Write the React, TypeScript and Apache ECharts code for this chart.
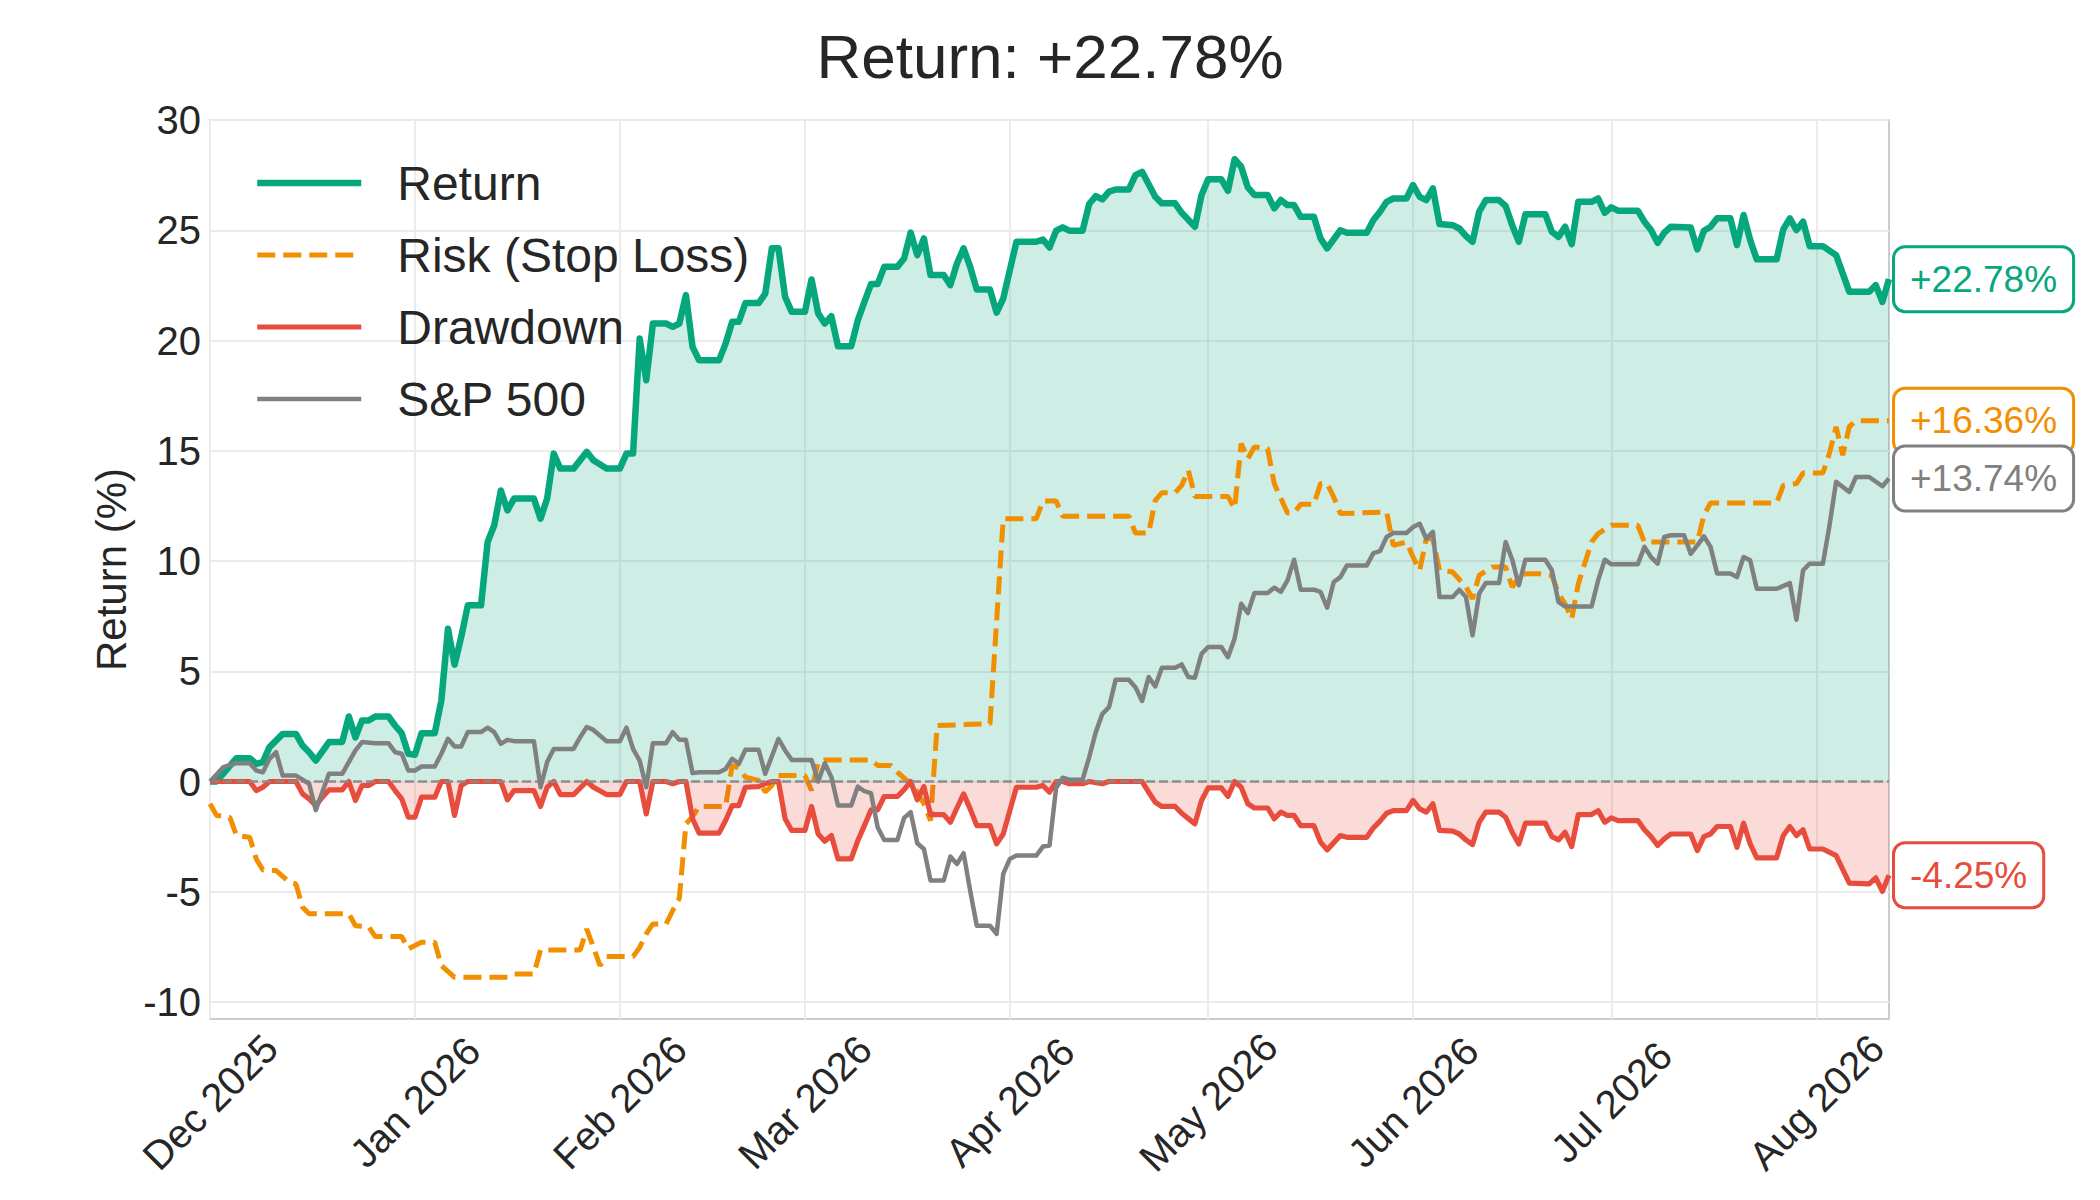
import React, { useEffect, useRef } from "react";
import * as echarts from "echarts";

// Days counted from 2025-12-01 (day 0) to 2026-08-12 (day 254)
const X_MAX_DAY = 254;
const MONTH_TICK_DAYS = [0, 31, 62, 90, 121, 151, 182, 212, 243];
const MONTH_TICK_LABELS = ["Dec 2025", "Jan 2026", "Feb 2026", "Mar 2026", "Apr 2026", "May 2026", "Jun 2026", "Jul 2026", "Aug 2026"];
const Y_TICKS = [-10, -5, 0, 5, 10, 15, 20, 25, 30];
const Y_MIN = -10.77;
const Y_MAX = 30;

const TITLE = "Return: +22.78%";
const SERIES_NAMES = ["Return", "Risk (Stop Loss)", "Drawdown", "S&P 500"];

// [day, value %]
const RETURN_POINTS = [
  [0,0],[1,0],[4,1.06],[6,1.06],[7,0.8],[8,0.88],[9,1.56],[11,2.16],[13,2.16],[14,1.63],[15,1.33],[16,0.95],
  [18,1.79],[20,1.79],[21,2.95],[22,2.0],[23,2.77],[24,2.77],[25,2.95],[27,2.95],[28,2.54],[29,2.19],[30,1.26],
  [31,1.21],[32,2.19],[34,2.19],[35,3.68],[36,6.93],[37,5.3],[38,6.55],[39,7.99],[41,7.99],[42,10.86],[43,11.62],
  [44,13.2],[45,12.3],[46,12.83],[49,12.83],[50,11.92],[51,12.83],[52,14.87],[53,14.19],[55,14.19],[57,14.95],
  [58,14.57],[60,14.19],[62,14.19],[63,14.87],[64,14.87],[65,20.09],[66,18.2],[67,20.77],[69,20.77],[70,20.62],
  [71,20.77],[72,22.06],[73,19.71],[74,19.1],[77,19.1],[78,19.86],[79,20.85],[80,20.85],[81,21.7],[83,21.7],
  [84,22.13],[85,24.18],[86,24.18],[87,21.98],[88,21.3],[90,21.3],[91,22.77],[92,21.23],[93,20.77],[94,21.1],
  [95,19.74],[97,19.74],[98,20.92],[99,21.75],[100,22.56],[101,22.56],[102,23.34],[104,23.34],[105,23.72],
  [106,24.89],[107,23.87],[108,24.63],[109,22.97],[111,22.97],[112,22.51],[113,23.49],[114,24.18],[115,23.34],
  [116,22.31],[118,22.31],[119,21.26],[120,21.9],[122,24.48],[125,24.48],[126,24.58],[127,24.22],[128,24.98],
  [129,25.13],[130,24.98],[132,24.98],[133,26.19],[134,26.55],[135,26.4],[136,26.75],[137,26.85],[139,26.85],
  [140,27.5],[141,27.65],[143,26.52],[144,26.22],[146,26.22],[147,25.79],[149,25.16],[150,26.6],[151,27.31],
  [153,27.31],[154,26.79],[155,28.22],[156,27.88],[157,26.94],[158,26.6],[160,26.6],[161,25.99],[162,26.37],
  [163,26.14],[164,26.14],[165,25.61],[167,25.61],[168,24.63],[169,24.18],[171,25.0],[172,24.89],[175,24.89],
  [176,25.46],[177,25.84],[178,26.29],[179,26.44],[181,26.44],[182,27.05],[183,26.52],[184,26.37],[185,26.9],
  [186,25.28],[188,25.23],[189,25.08],[190,24.74],[191,24.48],[192,25.84],[193,26.37],[195,26.37],[196,26.1],
  [197,25.23],[198,24.48],[199,25.73],[202,25.73],[203,24.93],[204,24.7],[205,25.16],[206,24.37],[207,26.29],
  [209,26.29],[210,26.44],[211,25.79],[212,26.04],[213,25.89],[216,25.89],[217,25.39],[218,25.01],[219,24.43],
  [220,24.89],[221,25.16],[224,25.13],[225,24.13],[226,24.98],[227,25.16],[228,25.54],[230,25.54],[231,24.33],
  [232,25.69],[233,24.55],[234,23.68],[237,23.68],[238,25.04],[239,25.54],[240,25.01],[241,25.39],[242,24.28],
  [244,24.28],[246,23.87],[248,22.21],[251,22.21],[252,22.51],[253,21.75],[254,22.78]
];

const RISK_POINTS = [
  [0,-1.01],[1,-1.54],[3,-1.62],[4,-2.45],[6,-2.53],[7,-3.51],[8,-4.01],[10,-4.04],[12,-4.57],[13,-4.64],
  [14,-5.7],[15,-6.0],[21,-6.0],[22,-6.54],[24,-6.58],[25,-7.03],[29,-7.03],[30,-7.59],[32,-7.29],[34,-7.29],
  [35,-8.35],[37,-8.88],[45,-8.88],[46,-8.73],[49,-8.73],[50,-7.64],[56,-7.64],[57,-6.69],[59,-8.35],[60,-7.94],
  [64,-7.94],[65,-7.52],[66,-6.91],[67,-6.46],[69,-6.46],[70,-5.85],[71,-5.3],[72,-1.92],[73,-1.59],[74,-1.13],
  [78,-1.13],[79,0.73],[80,0.6],[81,0.2],[83,0.05],[84,-0.48],[85,-0.18],[86,0.27],[90,0.27],[91,-0.41],[92,0.88],
  [93,0.98],[100,0.98],[101,0.73],[103,0.73],[104,0.42],[106,-0.1],[107,-0.48],[108,-1.01],[109,-1.77],[110,2.54],
  [118,2.62],[120,11.92],[125,11.92],[126,12.72],[128,12.72],[129,12.03],[139,12.03],[140,11.27],[142,11.27],
  [143,12.75],[144,13.09],[146,13.09],[147,13.43],[148,14.11],[149,12.93],[154,12.93],[155,12.38],[156,15.33],
  [157,14.64],[158,15.17],[160,15.1],[161,13.51],[163,12.18],[164,12.18],[165,12.57],[167,12.57],[168,13.51],
  [169,13.51],[170,12.9],[171,12.15],[178,12.22],[179,10.71],[181,10.86],[182,10.18],[183,9.58],[184,11.01],
  [185,11.01],[186,9.58],[188,9.5],[190,8.82],[191,8.29],[192,9.35],[194,9.73],[196,9.73],[197,8.82],[198,9.27],
  [199,9.42],[201,9.42],[203,9.35],[204,8.52],[205,8.06],[206,7.38],[207,8.97],[209,10.86],[210,11.24],
  [212,11.62],[216,11.62],[217,10.86],[225,10.86],[226,12.07],[227,12.63],[237,12.63],[238,13.43],[240,13.51],
  [241,13.99],[244,13.99],[245,14.9],[246,16.08],[247,14.8],[248,16.1],[249,16.36],[254,16.36]
];

const DRAWDOWN_POINTS = [
  [0,0],[6,0],[7,-0.41],[8,-0.26],[9,0],[13,0],[14,-0.56],[15,-0.79],[16,-1.09],[17,-0.71],[18,-0.38],[20,-0.38],
  [21,0],[22,-0.86],[23,-0.18],[24,-0.18],[25,0],[27,0],[28,-0.41],[29,-0.79],[30,-1.62],[31,-1.62],[32,-0.71],
  [34,-0.71],[35,0],[36,0],[37,-1.54],[38,-0.18],[39,0],[44,0],[45,-0.83],[46,-0.41],[49,-0.41],[50,-1.13],
  [51,-0.26],[52,0],[53,-0.59],[55,-0.59],[57,0],[58,-0.26],[60,-0.59],[62,-0.59],[63,0],[65,0],[66,-1.47],[67,0],
  [69,0],[70,-0.1],[71,0],[72,0],[73,-1.69],[74,-2.34],[77,-2.34],[78,-1.77],[79,-1.09],[80,-1.09],[81,-0.26],
  [83,-0.23],[84,-0.1],[85,0],[86,0],[87,-1.69],[88,-2.22],[90,-2.22],[91,-1.13],[92,-2.38],[93,-2.71],[94,-2.45],
  [95,-3.51],[97,-3.51],[98,-2.68],[99,-2.0],[100,-1.29],[101,-1.29],[102,-0.68],[104,-0.68],[105,-0.37],[106,0],
  [107,-0.83],[108,-0.23],[109,-1.5],[111,-1.5],[112,-1.85],[113,-1.2],[114,-0.56],[115,-1.24],[116,-2.0],
  [118,-2.0],[119,-2.83],[120,-2.38],[122,-0.26],[125,-0.26],[126,-0.18],[127,-0.48],[128,0],[129,0],[130,-0.1],
  [132,-0.1],[133,0],[135,-0.1],[136,0],[141,0],[142,-0.48],[143,-0.94],[144,-1.13],[146,-1.13],[147,-1.44],
  [149,-1.92],[150,-0.86],[151,-0.29],[153,-0.29],[154,-0.68],[155,0],[156,-0.26],[157,-1.01],[158,-1.2],
  [160,-1.2],[161,-1.69],[162,-1.39],[163,-1.54],[164,-1.54],[165,-2.0],[167,-2.0],[168,-2.75],[169,-3.1],
  [171,-2.45],[172,-2.53],[175,-2.53],[176,-2.1],[177,-1.8],[178,-1.44],[179,-1.32],[181,-1.32],[182,-0.86],
  [183,-1.24],[184,-1.39],[185,-1.01],[186,-2.22],[188,-2.25],[189,-2.38],[190,-2.65],[191,-2.86],[192,-1.85],
  [193,-1.39],[195,-1.39],[196,-1.62],[197,-2.3],[198,-2.83],[199,-1.89],[202,-1.89],[203,-2.5],[204,-2.65],
  [205,-2.3],[206,-2.95],[207,-1.5],[209,-1.5],[210,-1.32],[211,-1.85],[212,-1.65],[213,-1.77],[216,-1.77],
  [217,-2.19],[218,-2.5],[219,-2.9],[220,-2.6],[221,-2.38],[224,-2.38],[225,-3.13],[226,-2.5],[227,-2.38],
  [228,-2.04],[230,-2.04],[231,-2.98],[232,-1.89],[233,-2.83],[234,-3.46],[237,-3.46],[238,-2.45],[239,-2.04],
  [240,-2.45],[241,-2.19],[242,-3.06],[244,-3.06],[246,-3.36],[248,-4.61],[251,-4.64],[252,-4.37],[253,-4.98],
  [254,-4.25]
];

const SP500_POINTS = [
  [0,0],[2,0.65],[4,0.83],[6,0.83],[7,0.5],[8,0.42],[9,1.03],[10,1.33],[11,0.27],[13,0.27],[15,-0.1],[16,-1.3],
  [18,0.35],[20,0.35],[21,0.88],[22,1.41],[23,1.79],[25,1.74],[27,1.74],[28,1.33],[29,1.26],[30,0.5],[31,0.5],
  [32,0.68],[34,0.68],[35,1.26],[36,1.94],[37,1.59],[38,1.59],[39,2.24],[41,2.24],[42,2.44],[43,2.24],[44,1.71],
  [45,1.89],[46,1.83],[49,1.83],[50,-0.26],[51,0.88],[52,1.48],[55,1.48],[56,2.01],[57,2.47],[58,2.34],[60,1.83],
  [62,1.83],[63,2.44],[64,1.48],[65,0.95],[66,-0.26],[67,1.74],[69,1.74],[70,2.24],[71,1.89],[72,1.89],[73,0.38],
  [74,0.42],[77,0.42],[78,0.57],[79,1.03],[80,0.8],[81,1.44],[83,1.44],[84,0.35],[86,1.94],[87,1.41],[88,0.98],
  [91,0.98],[92,0],[93,0.83],[94,0.2],[95,-1.09],[97,-1.09],[98,-0.23],[99,-0.44],[100,-0.53],[101,-2.07],
  [102,-2.65],[104,-2.65],[105,-1.65],[106,-1.39],[107,-2.8],[108,-3.06],[109,-4.49],[111,-4.49],[112,-3.4],
  [113,-3.74],[114,-3.25],[115,-4.95],[116,-6.54],[118,-6.54],[119,-6.91],[120,-4.19],[121,-3.51],[122,-3.36],
  [125,-3.36],[126,-2.95],[127,-2.9],[128,-0.29],[129,0.17],[130,0.08],[132,0.08],[133,1.1],[134,2.24],[135,3.07],
  [136,3.37],[137,4.61],[139,4.61],[140,4.28],[141,3.65],[142,4.74],[143,4.31],[144,5.16],[146,5.16],[147,5.31],
  [148,4.74],[149,4.71],[150,5.79],[151,6.1],[153,6.1],[154,5.64],[155,6.48],[156,8.06],[157,7.64],[158,8.55],
  [160,8.55],[161,8.79],[162,8.6],[163,9.12],[164,10.06],[165,8.7],[167,8.7],[168,8.6],[169,7.88],[170,9.05],
  [171,9.27],[172,9.8],[175,9.8],[176,10.36],[177,10.45],[178,11.09],[179,11.27],[181,11.27],[182,11.54],
  [183,11.69],[184,11.01],[185,11.32],[186,8.37],[188,8.37],[189,8.7],[190,8.37],[191,6.63],[192,8.52],[193,9.0],
  [195,9.0],[196,10.86],[197,10.06],[198,8.9],[199,10.06],[202,10.06],[203,9.58],[204,8.14],[205,7.94],[209,7.94],
  [210,9.12],[211,10.06],[212,9.85],[216,9.85],[217,10.64],[218,10.18],[219,9.88],[220,11.09],[221,11.17],
  [223,11.17],[224,10.33],[225,10.71],[226,11.12],[227,10.64],[228,9.43],[230,9.43],[231,9.27],[232,10.18],
  [233,10.03],[234,8.74],[237,8.74],[239,9.0],[240,7.34],[241,9.58],[242,9.88],[244,9.88],[245,11.62],[246,13.59],
  [248,13.13],[249,13.81],[251,13.81],[253,13.39],[254,13.74]
];

const COLORS = ["#06a77d", "#f18f01", "#e74c3c", "#808080"];
const TEXT_COLOR = "#262626";
const FONT = "'Liberation Sans', Arial, Helvetica, sans-serif";

function pct(v: number): string {
  return (v >= 0 ? "+" : "") + v.toFixed(2) + "%";
}

function endLabel(color: string) {
  return {
    show: true,
    formatter: (p: any) => pct(Array.isArray(p.value) ? p.value[1] : p.value),
    color,
    fontSize: 37,
    lineHeight: 40,
    fontFamily: FONT,
    backgroundColor: "#ffffff",
    borderColor: color,
    borderWidth: 3,
    borderRadius: 10,
    padding: [11, 15, 11, 15],
    distance: 6,
  };
}

export default function App() {
  const ref = useRef<HTMLDivElement>(null);

  useEffect(() => {
    if (!ref.current) return;
    const chart = echarts.init(ref.current, undefined, { renderer: "svg" });
    const option: any = {
      animation: false,
      backgroundColor: "#ffffff",
      textStyle: { fontFamily: FONT, color: TEXT_COLOR },
      title: {
        text: TITLE,
        left: "center",
        top: 20,
        textStyle: { fontSize: 62, fontWeight: "normal", color: TEXT_COLOR, fontFamily: FONT },
      },
      legend: {
        orient: "vertical",
        left: 254,
        top: 159,
        padding: 0,
        itemWidth: 104,
        itemHeight: 1,
        itemGap: 24,
        data: SERIES_NAMES,
        lineStyle: { width: "inherit" },
        itemStyle: { opacity: 0 },
        textStyle: { fontSize: 48, lineHeight: 48, color: TEXT_COLOR, fontFamily: FONT, padding: [0, 0, 0, 31] },
      },
      grid: {
        left: 210,
        right: 211,
        top: 120,
        bottom: 181,
        show: true,
        borderColor: "#cccccc",
        borderWidth: 2,
        backgroundColor: "transparent",
      },
      xAxis: {
        type: "value",
        min: 0,
        max: X_MAX_DAY,
        axisLine: { show: false },
        axisTick: { show: false, customValues: MONTH_TICK_DAYS },
        splitLine: { show: true, lineStyle: { color: "#ebebeb", width: 2 } },
        axisLabel: {
          customValues: MONTH_TICK_DAYS,
          formatter: (v: number) => {
            const i = MONTH_TICK_DAYS.indexOf(Math.round(v));
            return i >= 0 ? MONTH_TICK_LABELS[i] : "";
          },
          rotate: 45,
          align: "center",
          verticalAlign: "middle",
          margin: 83,
          fontSize: 40,
          color: TEXT_COLOR,
          fontFamily: FONT,
        },
      },
      yAxis: {
        type: "value",
        min: Y_MIN,
        max: Y_MAX,
        name: "Return (%)",
        nameLocation: "middle",
        nameGap: 76,
        nameTextStyle: { fontSize: 42, color: TEXT_COLOR, fontFamily: FONT },
        axisLine: { show: false },
        axisTick: { show: false, customValues: Y_TICKS },
        splitLine: { show: true, lineStyle: { color: "#ebebeb", width: 2 } },
        axisLabel: {
          customValues: Y_TICKS,
          margin: 9,
          fontSize: 40,
          color: TEXT_COLOR,
          fontFamily: FONT,
          formatter: (v: number) => String(v),
        },
      },
      series: [
        {
          name: SERIES_NAMES[0],
          type: "line",
          data: RETURN_POINTS,
          symbol: "none",
          lineStyle: { color: COLORS[0], width: 6.5, join: "round" },
          itemStyle: { color: COLORS[0] },
          areaStyle: { color: COLORS[0], opacity: 0.2, origin: 0 },
          endLabel: endLabel(COLORS[0]),
          z: 2,
          markLine: {
            silent: true,
            symbol: ["none", "none"],
            label: { show: false },
            lineStyle: { color: "#8a8a8a", type: [9, 4], width: 2.7, opacity: 0.95 },
            data: [{ yAxis: 0 }],
          },
        },
        {
          name: SERIES_NAMES[1],
          type: "line",
          data: RISK_POINTS,
          symbol: "none",
          lineStyle: { color: COLORS[1], width: 5, type: [18, 8] },
          itemStyle: { color: COLORS[1] },
          endLabel: endLabel(COLORS[1]),
          z: 3,
        },
        {
          name: SERIES_NAMES[2],
          type: "line",
          data: DRAWDOWN_POINTS,
          symbol: "none",
          lineStyle: { color: COLORS[2], width: 5.2, join: "round" },
          itemStyle: { color: COLORS[2] },
          areaStyle: { color: COLORS[2], opacity: 0.2, origin: 0 },
          endLabel: endLabel(COLORS[2]),
          z: 4,
        },
        {
          name: SERIES_NAMES[3],
          type: "line",
          data: SP500_POINTS,
          symbol: "none",
          lineStyle: { color: COLORS[3], width: 4.5, join: "round" },
          itemStyle: { color: COLORS[3] },
          endLabel: endLabel(COLORS[3]),
          z: 5,
        },
      ],
    };
    chart.setOption(option);
    return () => {
      chart.dispose();
    };
  }, []);

  return (
    <div
      ref={ref}
      style={{ position: "absolute", left: 0, top: 0, width: 2100, height: 1200, background: "#ffffff" }}
    />
  );
}
